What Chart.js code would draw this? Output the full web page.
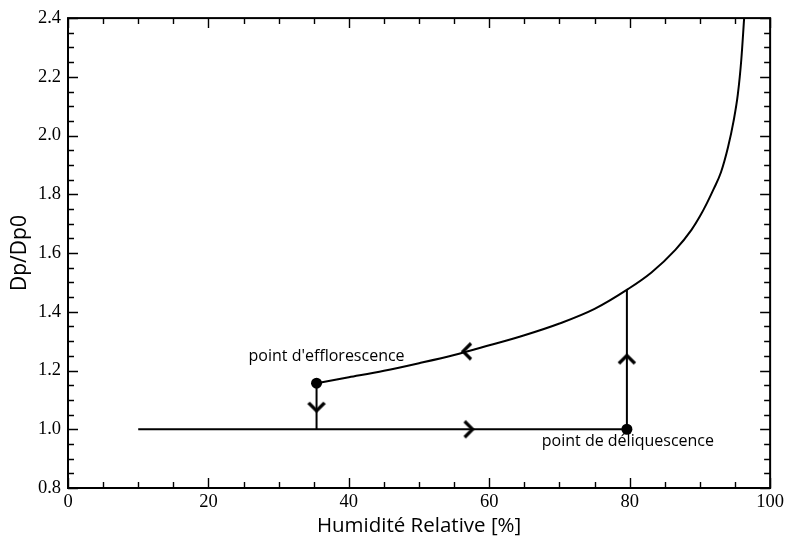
<!DOCTYPE html>
<html>
<head>
<meta charset="utf-8">
<script src="https://cdn.jsdelivr.net/npm/chart.js@4.4.1/dist/chart.umd.min.js"></script>
<style>
  html, body { margin: 0; padding: 0; background: #fff; }
  #wrap { width: 787px; height: 542px; }
</style>
</head>
<body>
<div id="wrap"><canvas id="c" width="787" height="542"></canvas></div>
<script>
// ---- Data ----
const curveRH = [35.4, 40, 45, 50, 55, 60, 65, 70, 75, 79.8, 83.1, 86.5, 88.8, 90.0, 91.0, 92.0, 93.0, 94.0, 94.8, 95.4, 95.9, 96.3];
const curveDp = [1.157, 1.177, 1.199, 1.225, 1.253, 1.286, 1.32, 1.36, 1.41, 1.478, 1.534, 1.611, 1.679, 1.725, 1.77, 1.82, 1.875, 1.96, 2.05, 2.14, 2.26, 2.40];

const dryRH = [10, 79.6];
const dryDp = [1.0, 1.0];

const efflorescenceRH = [35.4, 35.4];
const efflorescenceDp = [1.157, 1.0];

const deliquescenceRH = [79.6, 79.6];
const deliquescenceDp = [1.0, 1.475];

const markerRH = [35.4, 79.6];
const markerDp = [1.157, 1.0];
const markerLabels = ["point d'efflorescence", "point de déliquescence"];

const arrowRH = [57.2, 79.6, 35.4, 56.7];
const arrowDp = [1.0, 1.241, 1.073, 1.265];
const arrowDir = ['right', 'up', 'down', 'left'];

const xTicks = [0, 20, 40, 60, 80, 100];
const yTicks = [0.8, 1.0, 1.2, 1.4, 1.6, 1.8, 2.0, 2.2, 2.4];

const xTitle = 'Humidité Relative [%]';
const yTitle = 'Dp/Dp0';

// ---- helpers ----
const pts = (xs, ys) => xs.map((x, i) => ({ x: x, y: ys[i] }));

function chevronCanvas() {
  const c = document.createElement('canvas');
  c.width = 22; c.height = 22;
  const g = c.getContext('2d');
  g.strokeStyle = '#000';
  g.lineWidth = 3.2;
  g.lineCap = 'butt';
  g.lineJoin = 'miter';
  g.beginPath();
  g.moveTo(6, 3);
  g.lineTo(14, 11);
  g.lineTo(6, 19);
  g.stroke();
  return c;
}
const chev = chevronCanvas();
const rotOf = { right: 0, up: -90, down: 90, left: 180 };

const SERIF = '"Liberation Serif", "Times New Roman", serif';
const SANS = '"Open Sans", "Noto Sans", sans-serif';

const frameTicks = {
  id: 'frameTicks',
  afterDatasetsDraw(chart) {
    const { ctx, chartArea: a, scales: { x, y } } = chart;
    ctx.save();
    ctx.strokeStyle = '#000';
    ctx.lineWidth = 2;
    ctx.strokeRect(a.left, a.top, a.right - a.left, a.bottom - a.top);
    ctx.lineWidth = 1.4;
    ctx.beginPath();
    for (let v = x.min; v <= x.max + 1e-9; v += 5) {
      const px = Math.round(x.getPixelForValue(v)) + 0.5;
      const len = (Math.round(v) % 20 === 0) ? 10 : 6;
      ctx.moveTo(px, a.bottom); ctx.lineTo(px, a.bottom - len);
      ctx.moveTo(px, a.top); ctx.lineTo(px, a.top + len);
    }
    for (let k = 0; k <= 32; k++) {
      const v = y.min + k * 0.05;
      const py = Math.round(y.getPixelForValue(v)) + 0.5;
      const len = (k % 4 === 0) ? 10 : 6;
      ctx.moveTo(a.left, py); ctx.lineTo(a.left + len, py);
      ctx.moveTo(a.right, py); ctx.lineTo(a.right - len, py);
    }
    ctx.stroke();

    // annotation labels anchored to the markers
    ctx.fillStyle = '#000';
    ctx.font = '16px ' + SANS;
    ctx.textAlign = 'center';
    ctx.textBaseline = 'middle';
    const offs = [[10, -27], [1, 12]];
    markerLabels.forEach((t, i) => {
      const px = x.getPixelForValue(markerRH[i]);
      const py = y.getPixelForValue(markerDp[i]);
      ctx.fillText(t, px + offs[i][0], py + offs[i][1]);
    });
    ctx.restore();
  }
};

const lineStyle = { showLine: true, borderColor: '#000', borderWidth: 2, pointRadius: 0, pointHoverRadius: 0, fill: false };

new Chart(document.getElementById('c'), {
  type: 'scatter',
  data: {
    datasets: [
      Object.assign({ data: pts(curveRH, curveDp), cubicInterpolationMode: 'monotone' }, lineStyle),
      Object.assign({ data: pts(dryRH, dryDp) }, lineStyle),
      Object.assign({ data: pts(efflorescenceRH, efflorescenceDp) }, lineStyle),
      Object.assign({ data: pts(deliquescenceRH, deliquescenceDp) }, lineStyle),
      {
        data: pts(markerRH, markerDp),
        showLine: false, pointRadius: 5.5, pointBackgroundColor: '#000', pointBorderColor: '#000', pointBorderWidth: 0
      },
      {
        data: pts(arrowRH, arrowDp),
        showLine: false, pointStyle: chev, pointRadius: 10,
        rotation: arrowDir.map(d => rotOf[d])
      }
    ]
  },
  options: {
    responsive: false,
    animation: false,
    events: [],
    layout: { padding: { left: 0, right: 15, top: 13, bottom: 0 } },
    plugins: { legend: { display: false }, tooltip: { enabled: false } },
    scales: {
      x: {
        type: 'linear', min: 0, max: 100,
        afterFit(s) { s.height = 54; },
        afterBuildTicks(s) { s.ticks = xTicks.map(v => ({ value: v })); },
        grid: { display: false, drawTicks: false },
        border: { display: false },
        ticks: { color: '#000', font: { family: SERIF, size: 18.5 }, padding: 3, maxRotation: 0, autoSkip: false },
        title: { display: true, text: xTitle, color: '#000', font: { family: SANS, size: 20.5 }, padding: { top: 0, bottom: 4 } }
      },
      y: {
        type: 'linear', min: 0.8, max: 2.4,
        afterFit(s) { s.width = 68; },
        afterBuildTicks(s) { s.ticks = yTicks.map(v => ({ value: v })); },
        grid: { display: false, drawTicks: false },
        border: { display: false },
        ticks: { color: '#000', font: { family: SERIF, size: 18.5 }, padding: 7, callback: v => Number(v).toFixed(1) },
        title: { display: true, text: yTitle, color: '#000', font: { family: SANS, size: 21 }, padding: { top: 7, bottom: 0 } }
      }
    }
  },
  plugins: [frameTicks]
});
</script>
</body>
</html>
